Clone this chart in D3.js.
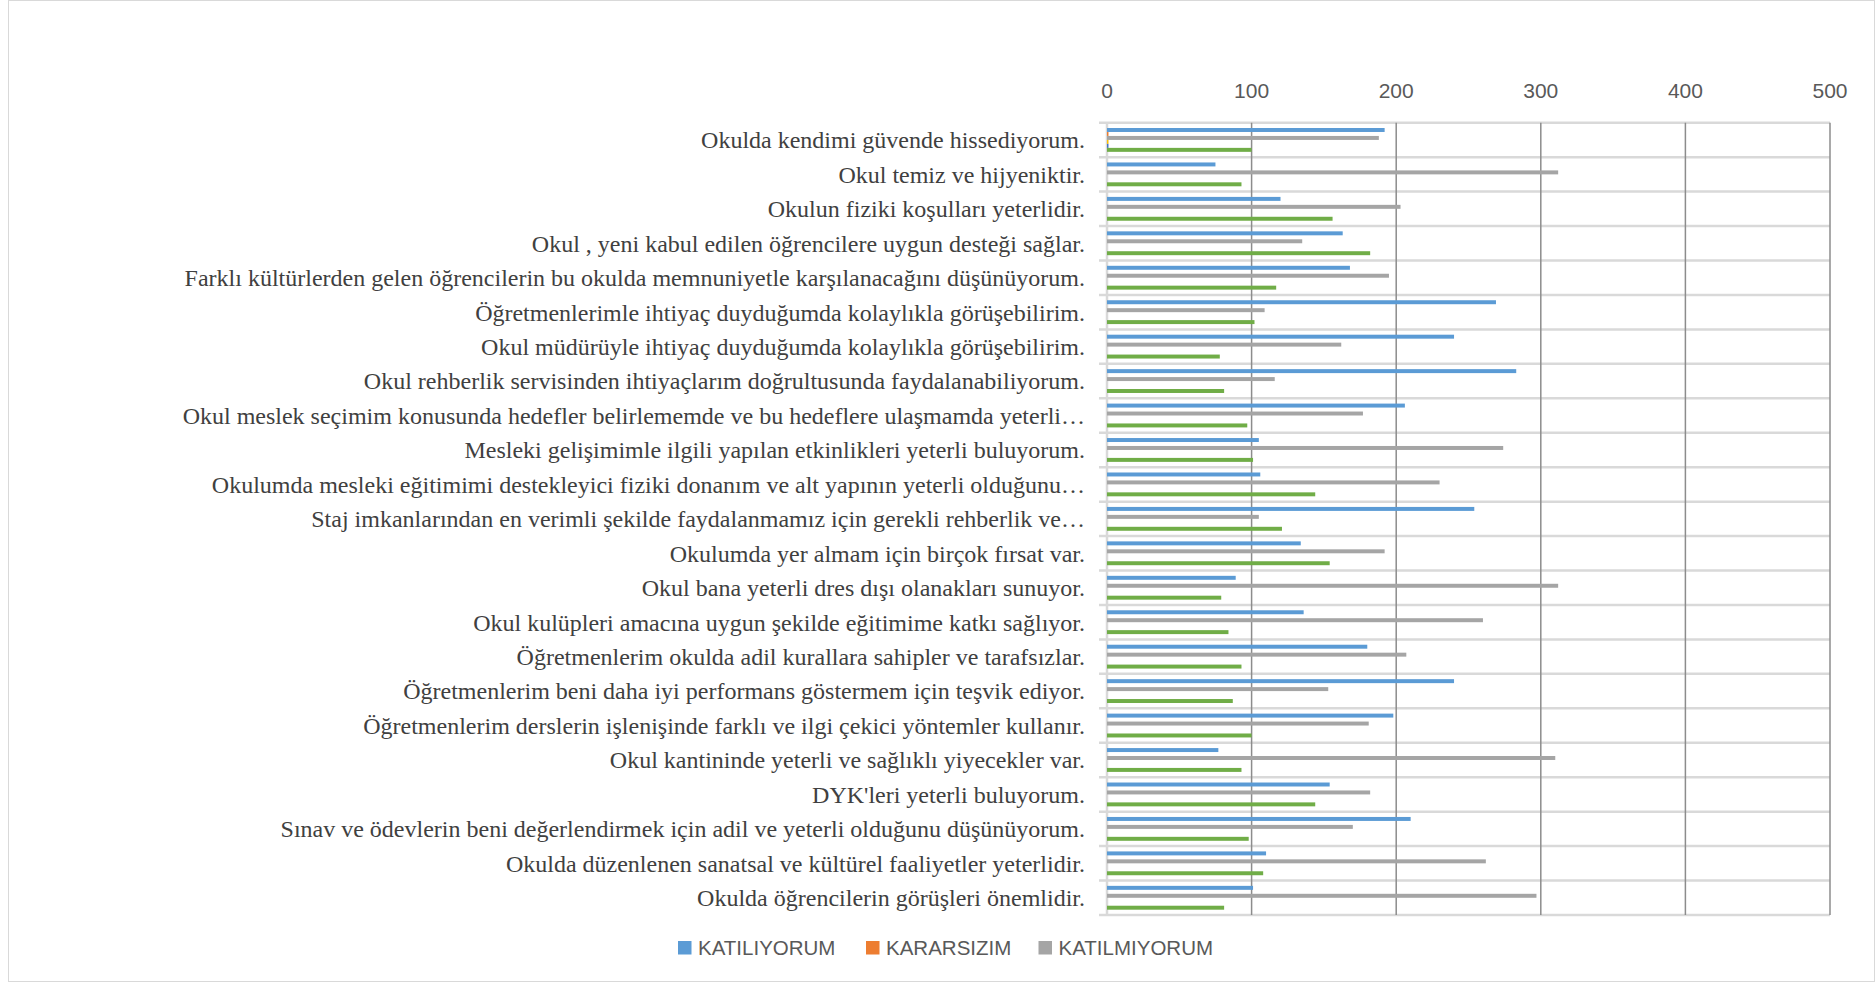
<!DOCTYPE html>
<meta charset="utf-8" />
<style>
  body {
    margin: 0;
    background: #fff;
  }
  .cat text {
    font-family: 'Liberation Serif', 'Times New Roman', serif;
    font-size: 24px;
    fill: #404040;
  }
  .tick-lbl {
    font-family: 'Liberation Sans', Arial, sans-serif;
    font-size: 21px;
    fill: #595959;
  }
  .legend text {
    font-family: 'Liberation Sans', Arial, sans-serif;
    font-size: 20.5px;
    fill: #595959;
  }
</style>
<html>
  <head>
    <title>Okul anketi</title>
  </head>
</html>
<svg width="1876" height="984"></svg>
<script src="https://d3js.org/d3.v7.min.js"></script>
<script>
  // statements, top to bottom as drawn
  var categories = [
    'Okulda kendimi güvende hissediyorum.',
    'Okul temiz ve hijyeniktir.',
    'Okulun fiziki koşulları yeterlidir.',
    'Okul , yeni kabul edilen öğrencilere uygun desteği sağlar.',
    'Farklı kültürlerden gelen öğrencilerin bu okulda memnuniyetle karşılanacağını düşünüyorum.',
    'Öğretmenlerimle ihtiyaç duyduğumda kolaylıkla görüşebilirim.',
    'Okul müdürüyle ihtiyaç duyduğumda kolaylıkla görüşebilirim.',
    'Okul rehberlik servisinden ihtiyaçlarım doğrultusunda faydalanabiliyorum.',
    'Okul meslek seçimim konusunda hedefler belirlememde ve bu hedeflere ulaşmamda yeterli…',
    'Mesleki gelişimimle ilgili yapılan etkinlikleri yeterli buluyorum.',
    'Okulumda mesleki eğitimimi destekleyici fiziki donanım ve alt yapının yeterli olduğunu…',
    'Staj imkanlarından en verimli şekilde faydalanmamız için gerekli rehberlik ve…',
    'Okulumda yer almam için birçok fırsat var.',
    'Okul bana yeterli dres dışı olanakları sunuyor.',
    'Okul kulüpleri amacına uygun şekilde eğitimime katkı sağlıyor.',
    'Öğretmenlerim okulda adil kurallara sahipler ve tarafsızlar.',
    'Öğretmenlerim beni daha iyi performans göstermem için teşvik ediyor.',
    'Öğretmenlerim derslerin işlenişinde farklı ve ilgi çekici yöntemler kullanır.',
    'Okul kantininde yeterli ve sağlıklı yiyecekler var.',
    "DYK'leri yeterli buluyorum.",
    'Sınav ve ödevlerin beni değerlendirmek için adil ve yeterli olduğunu düşünüyorum.',
    'Okulda düzenlenen sanatsal ve kültürel faaliyetler yeterlidir.',
    'Okulda öğrencilerin görüşleri önemlidir.',
  ];

  var katiliyorum = [192, 75, 120, 163, 168, 269, 240, 283, 206, 105, 106, 254, 134, 89, 136, 180, 240, 198, 77, 154, 210, 110, 101];
  var kararsizim = [1, 0, 0, 0, 0, 0, 0, 0, 0, 0, 0, 0, 0, 0, 0, 0, 0, 0, 0, 0, 0, 0, 0];
  var katilmiyorum = [188, 312, 203, 135, 195, 109, 162, 116, 177, 274, 230, 105, 192, 312, 260, 207, 153, 181, 310, 182, 170, 262, 297];
  var seri4 = [1, 0, 0, 0, 0, 0, 0, 0, 0, 0, 0, 0, 0, 0, 0, 0, 0, 0, 0, 0, 0, 0, 0];
  var seri5 = [1, 0, 0, 0, 0, 0, 0, 0, 0, 0, 0, 0, 0, 0, 0, 0, 0, 0, 0, 0, 0, 0, 0];
  var seri6 = [100, 93, 156, 182, 117, 102, 78, 81, 97, 101, 144, 121, 154, 79, 84, 93, 87, 100, 93, 144, 98, 108, 81];

  var xTicks = [0, 100, 200, 300, 400, 500];
  var legendNames = ['KATILIYORUM', 'KARARSIZIM', 'KATILMIYORUM'];

  var series = [
    { id: 'KATILIYORUM', values: katiliyorum, color: '#5B9BD5' },
    { id: 'KARARSIZIM', values: kararsizim, color: '#ED7D31' },
    { id: 'KATILMIYORUM', values: katilmiyorum, color: '#A5A5A5' },
    { id: 'Seri4', values: seri4, color: '#FFC000' },
    { id: 'Seri5', values: seri5, color: '#4472C4' },
    { id: 'Seri6', values: seri6, color: '#70AD47' },
  ];

  var svg = d3.select('svg'),
    margin = { top: 122.7, left: 1107, right: 46, bottom: 69 },
    width = +svg.attr('width') - margin.left - margin.right,
    height = +svg.attr('height') - margin.top - margin.bottom;

  // outer chart frame
  svg
    .append('rect')
    .attr('x', 8.5)
    .attr('y', 0.5)
    .attr('width', 1866)
    .attr('height', 981)
    .attr('fill', '#fff')
    .attr('stroke', '#d9d9d9');

  var g = svg
    .append('g')
    .attr('transform', 'translate(' + margin.left + ',' + margin.top + ')');

  var x = d3.scaleLinear().domain([0, 500]).range([0, width]);
  var y0 = d3.scaleBand().domain(categories).range([0, height]);
  var rowH = y0.step();
  var pad = rowH * 0.154;
  var y1 = d3
    .scaleBand()
    .domain(series.map(function (s) { return s.id; }))
    .range([pad, rowH - pad]);

  // horizontal category lines (with outward tick)
  var rowEdges = categories.map(function (c) { return y0(c); }).concat([height]);
  g.selectAll('.hline')
    .data(rowEdges)
    .enter()
    .append('line')
    .attr('x1', -8)
    .attr('x2', width)
    .attr('y1', function (d) { return d; })
    .attr('y2', function (d) { return d; })
    .attr('stroke', '#d9d9d9')
    .attr('stroke-width', 2.5);

  // vertical value gridlines
  g.selectAll('.vline')
    .data(xTicks.slice(1))
    .enter()
    .append('line')
    .attr('x1', function (d) { return x(d); })
    .attr('x2', function (d) { return x(d); })
    .attr('y1', 0)
    .attr('y2', height)
    .attr('stroke', '#8c8c8c')
    .attr('stroke-width', 1.5);

  // category axis line at 0
  g.append('line')
    .attr('x1', 0)
    .attr('x2', 0)
    .attr('y1', 0)
    .attr('y2', height)
    .attr('stroke', '#d9d9d9')
    .attr('stroke-width', 2.5);

  // top value axis labels
  g.selectAll('.tick-lbl')
    .data(xTicks)
    .enter()
    .append('text')
    .attr('class', 'tick-lbl')
    .attr('x', function (d) { return x(d); })
    .attr('y', 91 - margin.top)
    .attr('dy', '0.35em')
    .attr('text-anchor', 'middle')
    .text(function (d) { return d; });

  // bars
  var rows = g
    .selectAll('.row')
    .data(categories)
    .enter()
    .append('g')
    .attr('class', 'row')
    .attr('transform', function (d) { return 'translate(0,' + y0(d) + ')'; });

  rows
    .selectAll('rect')
    .data(function (d, i) {
      return series.map(function (s) {
        return { id: s.id, color: s.color, value: s.values[i] };
      });
    })
    .enter()
    .append('rect')
    .attr('x', 0)
    .attr('y', function (d) { return y1(d.id); })
    .attr('height', y1.bandwidth())
    .attr('width', function (d) { return x(d.value); })
    .attr('fill', function (d) { return d.color; });

  // category labels
  var cat = g.append('g').attr('class', 'cat');
  cat
    .selectAll('text')
    .data(categories)
    .enter()
    .append('text')
    .attr('x', -22)
    .attr('y', function (d) { return y0(d) + rowH / 2; })
    .attr('dy', '0.35em')
    .attr('text-anchor', 'end')
    .text(function (d) { return d; });

  // legend (only the first three series)
  var legendX = [678, 866, 1038.5];
  var legend = svg
    .append('g')
    .attr('class', 'legend')
    .selectAll('g')
    .data(legendNames)
    .enter()
    .append('g')
    .attr('transform', function (d, i) { return 'translate(' + legendX[i] + ',948)'; });

  legend
    .append('rect')
    .attr('x', 0)
    .attr('y', -7)
    .attr('width', 13.5)
    .attr('height', 13.5)
    .attr('fill', function (d) {
      return series.find(function (s) { return s.id === d; }).color;
    });

  legend
    .append('text')
    .attr('x', 20)
    .attr('y', 0)
    .attr('dy', '0.35em')
    .text(function (d) { return d; });
</script>
